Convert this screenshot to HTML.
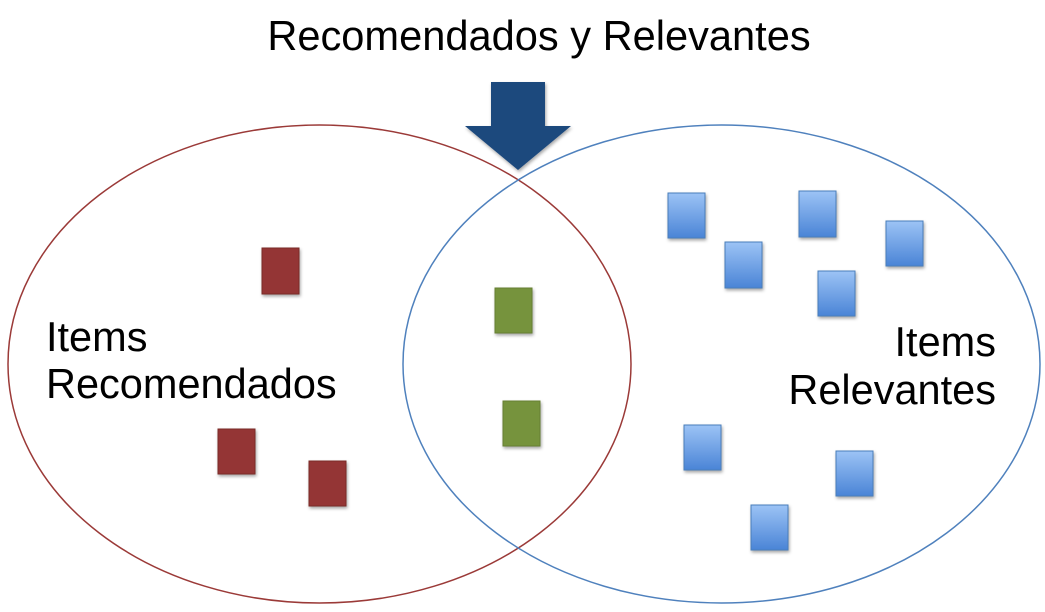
<!DOCTYPE html>
<html><head><meta charset="utf-8"><style>
html,body{margin:0;padding:0;background:#fff;width:1045px;height:612px;overflow:hidden}
</style></head><body>
<svg width="1045" height="612" viewBox="0 0 1045 612" xmlns="http://www.w3.org/2000/svg" font-family="Liberation Sans, Arial, sans-serif">
<defs>
<linearGradient id="bl" x1="0" y1="0" x2="0" y2="1"><stop offset="0" stop-color="#9cc3f5"/><stop offset="1" stop-color="#4a84d6"/></linearGradient>
<filter id="sh" x="-20%" y="-20%" width="150%" height="150%"><feDropShadow dx="1" dy="2" stdDeviation="1.5" flood-opacity="0.35"/></filter>
</defs>
<text x="539" y="50" font-size="41.6" text-anchor="middle" fill="#000">Recomendados y Relevantes</text>
<ellipse cx="319.5" cy="364" rx="311.5" ry="239" fill="none" stroke="#9b3a38" stroke-width="1.5"/>
<ellipse cx="721.5" cy="364" rx="318.5" ry="239" fill="none" stroke="#4f81bd" stroke-width="1.5"/>
<polygon points="491,82 545,82 545,126 571,126 518,170 465,126 491,126" fill="#1f497d" filter="url(#sh)"/>
<g filter="url(#sh)">
<rect x="262" y="248" width="37" height="46" fill="#943634" stroke="#7a2a28"/>
<rect x="218" y="429" width="37" height="45" fill="#943634" stroke="#7a2a28"/>
<rect x="309" y="461" width="37" height="45" fill="#943634" stroke="#7a2a28"/>
<rect x="495" y="288" width="37" height="45" fill="#76933c" stroke="#667f33"/>
<rect x="503" y="401" width="37" height="45" fill="#76933c" stroke="#667f33"/>
<g fill="url(#bl)" stroke="#4a7ebb">
<rect x="668" y="193" width="37" height="45"/>
<rect x="725" y="242" width="37" height="46"/>
<rect x="799" y="191" width="37" height="46"/>
<rect x="886" y="221" width="37" height="45"/>
<rect x="818" y="271" width="37" height="45"/>
<rect x="684" y="425" width="37" height="45"/>
<rect x="836" y="451" width="37" height="45"/>
<rect x="751" y="505" width="37" height="45"/>
</g>
</g>
<text x="46" y="351" font-size="41.5" fill="#000">Items</text>
<text x="46" y="398" font-size="41.5" fill="#000">Recomendados</text>
<text x="996" y="356" font-size="41.5" text-anchor="end" fill="#000">Items</text>
<text x="996" y="404" font-size="41.5" text-anchor="end" fill="#000">Relevantes</text>
</svg>
</body></html>
